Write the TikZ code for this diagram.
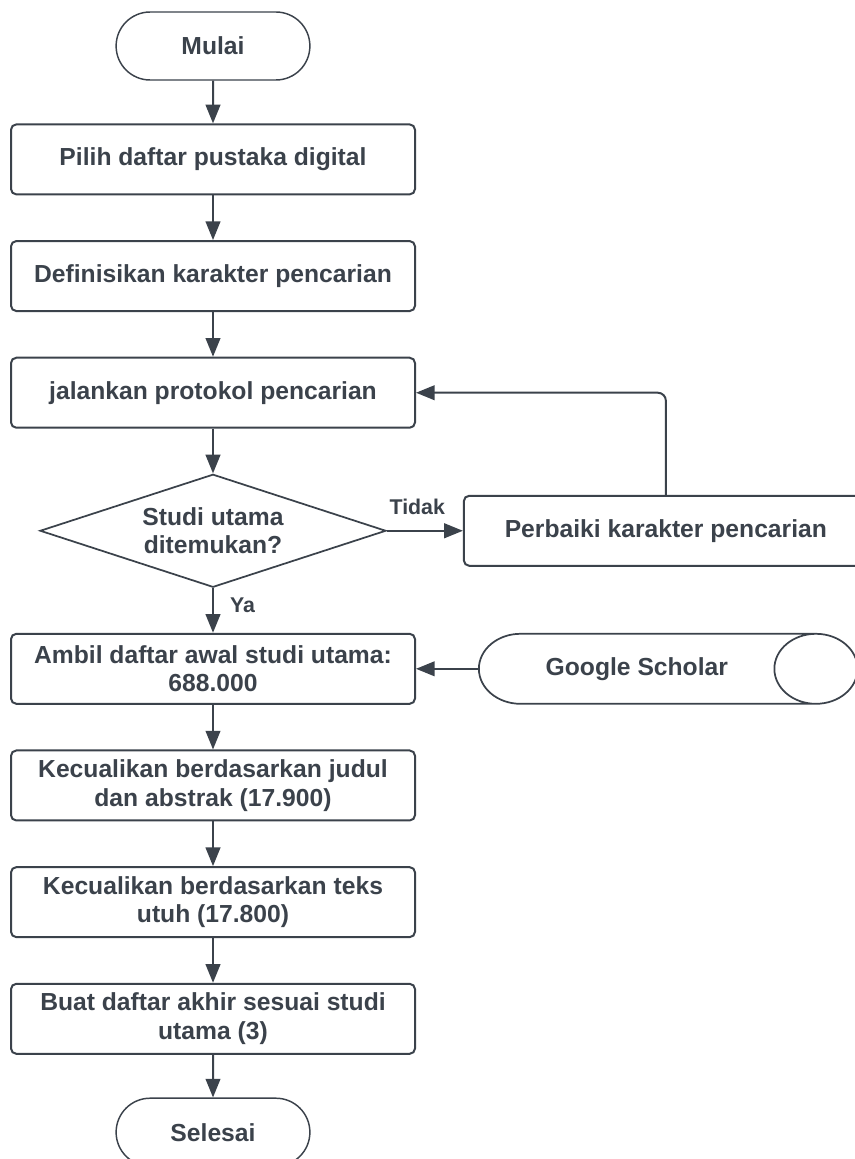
\documentclass[tikz,border=0pt]{standalone}
\usepackage{fontspec}
\setmainfont{Liberation Sans}
\usetikzlibrary{arrows.meta, positioning, shapes.geometric, shapes.misc}

\definecolor{ink}{HTML}{3B424B}
\newcommand{\flowfont}{\fontsize{18.5}{21.5}\selectfont\bfseries}
\newcommand{\labelfont}{\fontsize{16}{19}\selectfont\bfseries}

\tikzset{
  term/.style={rounded rectangle, draw=ink, text=ink, line width=1.1pt,
    minimum width=152pt, minimum height=51pt, font=\flowfont},
  proc/.style={rectangle, rounded corners=4pt, draw=ink, text=ink, line width=1.5pt,
    minimum width=303pt, minimum height=52.5pt, align=center, font=\flowfont},
  decision/.style={diamond, aspect=3.06, draw=ink, text=ink, line width=1.3pt,
    minimum width=259.5pt, minimum height=84.75pt, inner sep=0pt, align=center, font=\flowfont},
  store/.style={cylinder, aspect=2.6, draw=ink, text=ink, line width=1.3pt,
    minimum width=52.5pt, minimum height=284pt, font=\flowfont},
  lbl/.style={text=ink, inner sep=0pt, font=\labelfont}
}

\begin{document}
\begin{tikzpicture}[>={Triangle[length=14pt,width=11pt]}, line width=1.5pt, draw=ink, node distance=33.5pt]
\useasboundingbox (0,0) rectangle (641.25pt,-869.25pt);

% define the steps of the search
  \node[term]    (mulai) at (159.75pt,-34.5pt) {Mulai};
  \node[proc]    (pilih)   [below=32pt of mulai]  {Pilih daftar pustaka digital};
  \node[proc]    (defin)   [below=of pilih]  {Definisikan karakter pencarian};
  \node[proc]    (jalan)   [below=of defin]  {jalankan protokol pencarian};
  \node[decision] (temu)   [below=of jalan]  {Studi utama\\ditemukan?};
  \node[proc]    (perbaiki) [right=57pt of temu] {Perbaiki karakter pencarian};
  \node[proc]    (ambil)   [below=of temu]   {Ambil daftar awal studi utama:\\688.000};
  \node[store]   (scholar) [right=46.5pt of ambil] {Google Scholar};
  \node[proc]    (judul)   [below=of ambil]  {Kecualikan berdasarkan judul\\dan abstrak (17.900)};
  \node[proc]    (teks)    [below=of judul]  {Kecualikan berdasarkan teks\\utuh (17.800)};
  \node[proc]    (akhir)   [below=of teks]   {Buat daftar akhir sesuai studi\\utama (3)};
  \node[term]    (selesai) [below=32pt of akhir]  {Selesai};

% define the links
  \path[->, draw=ink] (mulai) edge (pilih)
        (pilih) edge (defin)
        (defin) edge (jalan)
        (jalan) edge (temu)
        (temu) edge node[lbl, above=11pt, pos=0.4] {Tidak} (perbaiki)
               edge node[lbl, right=12pt, pos=0.38] {Ya} (ambil)
        (scholar) edge (ambil)
        (ambil) edge (judul)
        (judul) edge (teks)
        (teks) edge (akhir)
        (akhir) edge (selesai);
  \draw[->, draw=ink, rounded corners=6pt] (perbaiki.north) |- (jalan.east);

\end{tikzpicture}
\end{document}
